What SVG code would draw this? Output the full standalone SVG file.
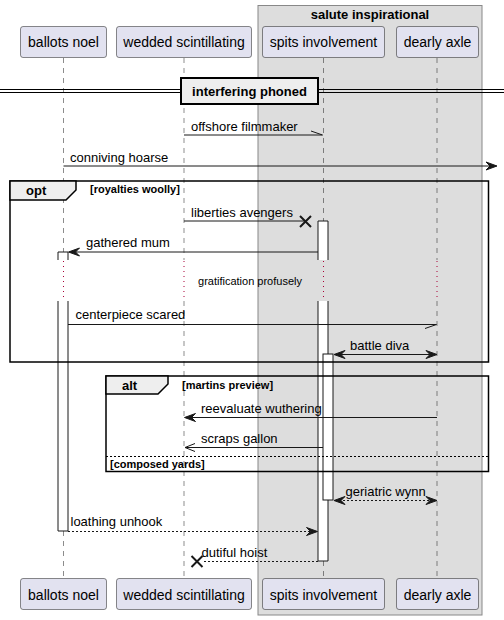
<svg xmlns="http://www.w3.org/2000/svg" width="504" height="620" viewBox="0 0 504 620">
<style>
text{font-family:"Liberation Sans",Arial,sans-serif;fill:#000}
.pt{font-size:14px;text-anchor:middle}
.ml{font-size:13px}
.b13{font-size:13px;font-weight:bold}
.b11{font-size:11px;font-weight:bold}
.part{fill:#E2E2F0;stroke:#181818;stroke-width:0.5}
.life{stroke:#181818;stroke-width:0.5;stroke-dasharray:5,5;fill:none}
.delay{stroke:#A80036;stroke-width:1;stroke-dasharray:1,4;fill:none}
.act{fill:#FFFFFF;stroke:none}
.actl{stroke:#181818;stroke-width:1;fill:none}
.msg{stroke:#181818;stroke-width:1;fill:none}
.dash{stroke:#181818;stroke-width:1;fill:none;stroke-dasharray:2,2}
.head{fill:#181818;stroke:#181818;stroke-width:1}
.xm{stroke:#181818;stroke-width:2;fill:none}
.frame{fill:none;stroke:#000;stroke-width:1.5}
.tab{fill:#EEEEEE;stroke:#000;stroke-width:1.5}
</style>
<rect x="258" y="5.5" width="224" height="609.5" fill="#DDDDDD" stroke="#888888" stroke-width="1"/>
<text class="b13" x="370" y="19" text-anchor="middle">salute inspirational</text>
<g id="lifelines">
<path class="life" d="M63.5,58V260M63.5,301V578M184,58V260M184,301V578M323.5,58V260M323.5,301V578M437,58V260M437,301V578"/>
<path class="delay" d="M63.5,261V301M184,261V301M323.5,261V301M437,261V301"/>
</g>
<g id="activations">
<rect class="act" x="58" y="252" width="10" height="8"/>
<rect class="act" x="58" y="301" width="10" height="230"/>
<path class="actl" d="M58,260V252H68V260M58,301V531H68V301"/>
<rect class="act" x="318" y="221" width="10" height="39"/>
<rect class="act" x="318" y="301" width="10" height="260"/>
<path class="actl" d="M318,260V221H328V260M318,301V561H328V301"/>
<rect x="323" y="354" width="10" height="146" fill="#FFFFFF" stroke="#181818" stroke-width="1"/>
</g>
<g id="p-ballots-noel">
<rect class="part" x="20.5" y="26.5" width="86" height="31" rx="2.5"/>
<text class="pt" x="63.5" y="47">ballots noel</text>
<rect class="part" x="20.5" y="578.5" width="86" height="31" rx="2.5"/>
<text class="pt" x="63.5" y="599.5">ballots noel</text>
</g>
<g id="p-wedded-scintillating">
<rect class="part" x="116.5" y="26.5" width="135" height="31" rx="2.5"/>
<text class="pt" x="184" y="47">wedded scintillating</text>
<rect class="part" x="116.5" y="578.5" width="135" height="31" rx="2.5"/>
<text class="pt" x="184" y="599.5">wedded scintillating</text>
</g>
<g id="p-spits-involvement">
<rect class="part" x="262.5" y="26.5" width="122" height="31" rx="2.5"/>
<text class="pt" x="323.5" y="47">spits involvement</text>
<rect class="part" x="262.5" y="578.5" width="122" height="31" rx="2.5"/>
<text class="pt" x="323.5" y="599.5">spits involvement</text>
</g>
<g id="p-dearly-axle">
<rect class="part" x="396.5" y="26.5" width="82" height="31" rx="2.5"/>
<text class="pt" x="437.5" y="47">dearly axle</text>
<rect class="part" x="396.5" y="578.5" width="82" height="31" rx="2.5"/>
<text class="pt" x="437.5" y="599.5">dearly axle</text>
</g>
<g id="divider">
<path d="M0,89.5H504M0,92.5H504" stroke="#000" stroke-width="1"/>
<rect x="181" y="78" width="137" height="26" fill="#EEEEEE" stroke="#000" stroke-width="2"/>
<text class="b13" x="249.5" y="96" text-anchor="middle">interfering phoned</text>
</g>
<g id="frame-opt">
<rect class="frame" x="10" y="181" width="478.5" height="181"/>
<path class="tab" d="M10,181H76V190L66,200H10Z"/>
<text class="b13" x="26" y="195">opt</text>
<text class="b11" x="90" y="193">[royalties woolly]</text>
</g>
<g id="frame-alt">
<rect class="frame" x="106" y="376" width="382.5" height="95.5"/>
<path class="tab" d="M106,376H168V384L158,394H106Z"/>
<text class="b13" x="122" y="389.5">alt</text>
<text class="b11" x="182" y="389">[martins preview]</text>
<path d="M106,456.5H488.5" stroke="#000" stroke-width="1" stroke-dasharray="2,2"/>
<text class="b11" x="110" y="467.5">[composed yards]</text>
</g>
<g id="connectors">
<path class="msg" d="M184,135H322.5M311,131L322.5,135"/>
<text class="ml" x="191" y="131">offshore filmmaker</text>
<path class="msg" d="M63.5,166H495"/>
<polygon class="head" points="486,162 497,166 486,170 490,166"/>
<text class="ml" x="70" y="161.5">conniving hoarse</text>
<path class="msg" d="M184,221H305"/>
<path class="xm" d="M300,216L311,227M300,227L311,216"/>
<text class="ml" x="191" y="216.5">liberties avengers</text>
<path class="msg" d="M318,252H70"/>
<polygon class="head" points="68.5,252 79.5,248 75.5,252 79.5,256"/>
<text class="ml" x="86" y="247">gathered mum</text>
<text x="250" y="285" font-size="11" text-anchor="middle">gratification profusely</text>
<path class="msg" d="M68,324.5H436.5M425,328.5L436.5,324.5"/>
<text class="ml" x="75.5" y="319">centerpiece scared</text>
<path class="msg" d="M335,354.5H435"/>
<polygon class="head" points="334,354.5 345,350.5 341,354.5 345,358.5"/>
<polygon class="head" points="437,354.5 426,350.5 430,354.5 426,358.5"/>
<text class="ml" x="350" y="350">battle diva</text>
<path class="msg" d="M437,417.5H186"/>
<polygon class="head" points="184.5,417.5 195.5,413.5 191.5,417.5 195.5,421.5"/>
<text class="ml" x="201" y="412.5">reevaluate wuthering</text>
<path class="msg" d="M323,447.5H185M195,443.5L185,447.5L195,451.5"/>
<text class="ml" x="201" y="442.5">scraps gallon</text>
<path class="dash" d="M335,500.5H435"/>
<polygon class="head" points="334,500.5 345,496.5 341,500.5 345,504.5"/>
<polygon class="head" points="437,500.5 426,496.5 430,500.5 426,504.5"/>
<text class="ml" x="345.5" y="496">geriatric wynn</text>
<path class="dash" d="M68,531.5H315"/>
<polygon class="head" points="317.5,531.5 306.5,527.5 310.5,531.5 306.5,535.5"/>
<text class="ml" x="70.5" y="526">loathing unhook</text>
<path class="dash" d="M318,561.5H202"/>
<path class="xm" d="M191.5,556L202.5,567M191.5,567L202.5,556"/>
<text class="ml" x="201.5" y="556.5">dutiful hoist</text>
</g>
</svg>
